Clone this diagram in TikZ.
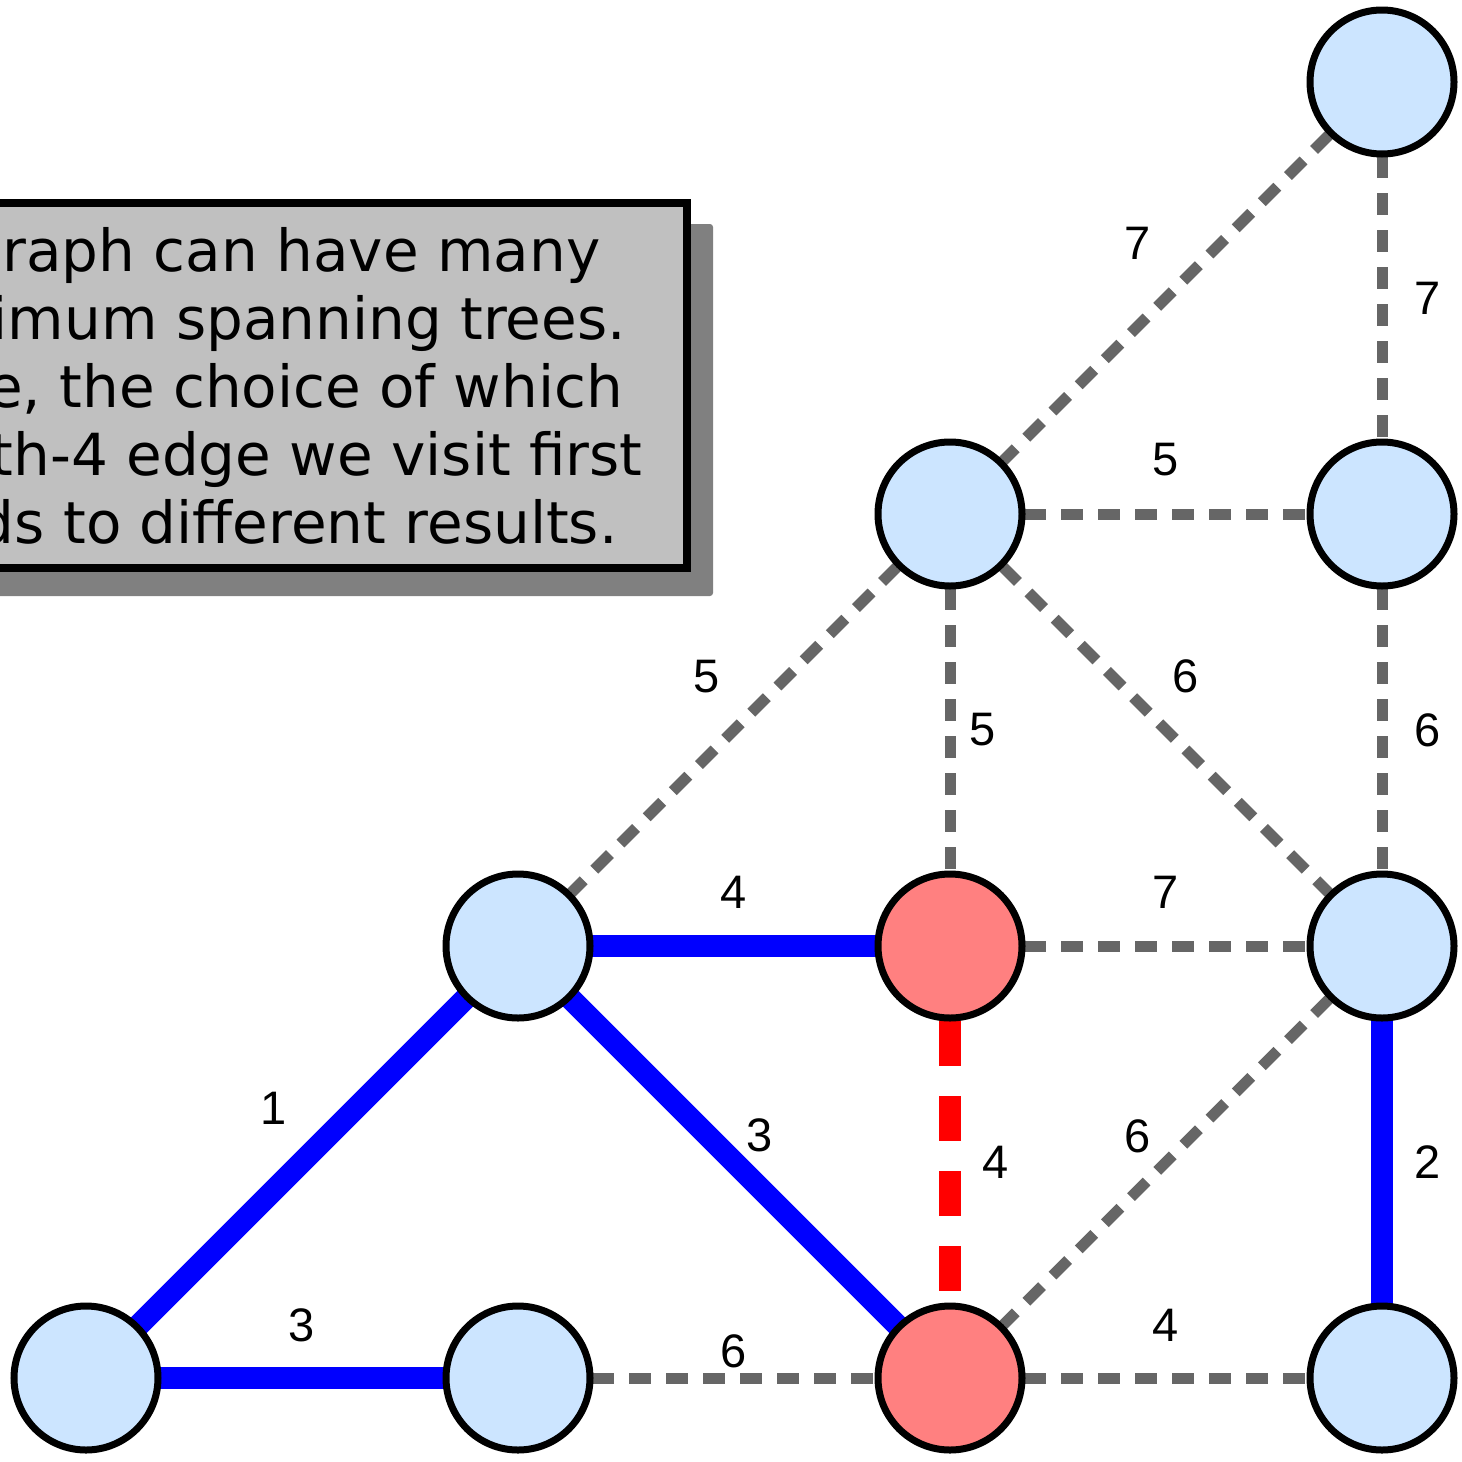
\documentclass[tikz,border=0pt]{standalone}
\usepackage{fontspec}
\setmainfont{DejaVu Sans}
\newfontfamily\numfont{Liberation Sans}
\usetikzlibrary{backgrounds}

\definecolor{nodefill}{HTML}{CCE5FF}
\definecolor{hotfill}{HTML}{FF8080}
\definecolor{edgegray}{HTML}{666666}
\definecolor{boxfill}{HTML}{C0C0C0}
\definecolor{boxshadow}{HTML}{808080}

\begin{document}
\begin{tikzpicture}[x=1pt,y=-1pt,
  vertex/.style={circle, draw=black, line width=7pt, fill=nodefill,
                 minimum size=144pt, inner sep=0pt},
  hot/.style={vertex, fill=hotfill},
  tree/.style={draw=blue, line width=22pt},
  spare/.style={draw=edgegray, line width=11pt, dash pattern=on 22pt off 15pt},
  pick/.style={draw=red, line width=22pt, dash pattern=on 45pt off 30pt},
  lbl/.style={font=\numfont\fontsize{47}{47}\selectfont, inner sep=0pt},
  note/.style={font=\fontsize{58}{68}\selectfont, align=center, inner sep=0pt}]

\useasboundingbox (0,0) rectangle (1462,1462);
\clip (0,0) rectangle (1462,1462);

% caption box with drop shadow
\fill[boxshadow, rounded corners=3pt] (-30,224) rectangle (713,596);
\draw[fill=boxfill, line width=8pt] (-40,203) rectangle (687,568);
\node[note] (caption) at (254,386)
  {A graph can have many\\minimum spanning trees.\\Here, the choice of which\\length-4 edge we visit first\\leads to different results.};

% vertices
\node[vertex] (A) at (1382,82) {};
\node[vertex] (B) at (950,514) {};
\node[vertex] (C) at (1382,514) {};
\node[vertex] (D) at (518,946) {};
\node[hot]    (E) at (950,946) {};
\node[vertex] (F) at (1382,946) {};
\node[vertex] (G) at (86,1378) {};
\node[vertex] (J) at (518,1378) {};
\node[hot]    (H) at (950,1378) {};
\node[vertex] (I) at (1382,1378) {};

% edges with their weights, beneath the vertices
\begin{pgfonlayer}{background}
  \draw[spare] (A.center) -- node[lbl, xshift=-28pt, yshift=55pt] {7} (B.center);
  \draw[spare] (A.center) -- node[lbl, xshift=46pt] {7} (C.center);
  \draw[spare] (B.center) -- node[lbl, yshift=54pt] {5} (C.center);
  \draw[spare] (B.center) -- node[lbl, xshift=-27pt, yshift=53pt] {5} (D.center);
  \draw[spare] (B.center) -- node[lbl, xshift=33pt] {5} (E.center);
  \draw[spare] (B.center) -- node[lbl, xshift=20pt, yshift=54pt] {6} (F.center);
  \draw[spare] (C.center) -- node[lbl, xshift=46pt] {6} (F.center);
  \draw[tree]  (D.center) -- node[lbl, yshift=54pt] {4} (E.center);
  \draw[spare] (E.center) -- node[lbl, yshift=54pt] {7} (F.center);
  \draw[tree]  (D.center) -- node[lbl, xshift=-28pt, yshift=54pt] {1} (G.center);
  \draw[tree]  (D.center) -- node[lbl, xshift=26pt, yshift=27pt] {3} (H.center);
  \draw[pick]  (E.center) -- node[lbl, xshift=46pt] {4} (H.center);
  \draw[spare] (F.center) -- node[lbl, xshift=-28pt, yshift=26pt] {6} (H.center);
  \draw[tree]  (F.center) -- node[lbl, xshift=46pt] {2} (I.center);
  \draw[tree]  (G.center) -- node[lbl, yshift=53pt] {3} (J.center);
  \draw[spare] (J.center) -- node[lbl, yshift=27pt] {6} (H.center);
  \draw[spare] (H.center) -- node[lbl, yshift=53pt] {4} (I.center);
\end{pgfonlayer}
\end{tikzpicture}
\end{document}
